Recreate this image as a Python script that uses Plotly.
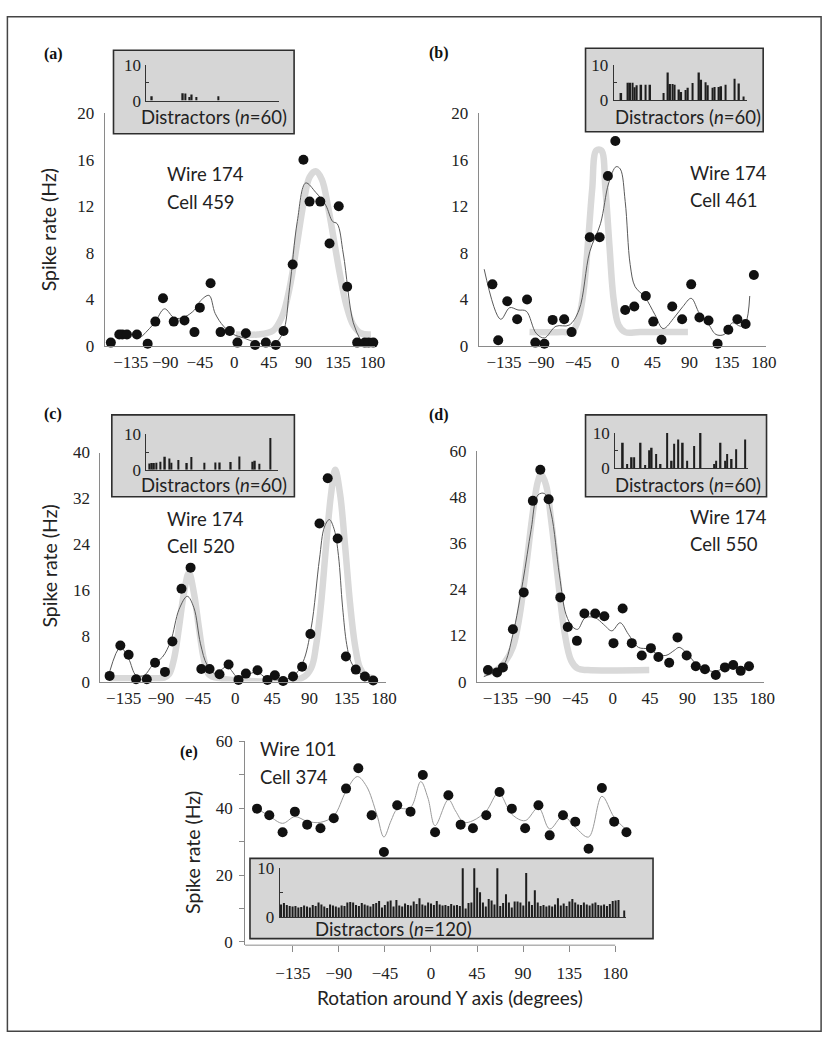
import plotly.graph_objects as go

W, H = 840, 1051

# ---- data ----
x_ticks = [-135, -90, -45, 0, 45, 90, 135, 180]
x_tick_text = ['−135', '−90', '−45', '0', '45', '90', '135', '180']

# (a) wire 174 cell 459
a_x = [-161, -150, -146, -140, -127, -113, -103, -93, -79, -65, -52, -45, -31, -18, -6, 4,
       15, 27, 41, 54, 64, 76, 90, 98, 112, 124, 136, 147, 160, 170, 175, 181]
a_y = [0.3, 1.0, 1.0, 1.0, 1.0, 0.2, 2.1, 4.1, 2.1, 2.2, 1.2, 3.3, 5.4, 1.2, 1.3, 0.3,
       1.1, 0.1, 0.3, 0.1, 1.3, 7.0, 16.0, 12.4, 12.4, 8.8, 12.0, 5.1, 0.3, 0.3, 0.3, 0.3]
a_fit_x = [-121, -104, -91, -78, -65, -52, -44, -33, -25, -14, -1, 12, 29, 50, 63, 72, 82,
           93, 106, 119, 128, 134, 142, 155, 166]
a_fit_y = [0.8, 2.0, 3.2, 2.4, 2.5, 3.1, 3.9, 4.35, 2.8, 1.7, 1.0, 0.7, 0.3, 0.15, 1.1, 5.0,
           10.7, 14.0, 13.2, 12.1, 10.7, 10.5, 7.9, 2.0, 0.3]
a_gauss_x = [2, 30, 50, 62, 72, 81, 90, 98, 106, 114, 122, 130, 138, 146, 155, 165, 178]
a_gauss_y = [1.0, 1.0, 1.3, 2.5, 5.0, 8.5, 12.2, 14.5, 15.0, 14.3, 12.0, 9.0, 6.0, 3.5, 1.8, 1.1, 1.0]
a_bars = [0, 0, 1.2, 0, 0, 0, 0, 0, 0, 0,
          0, 0, 0, 0, 0, 0, 2.1, 2.0, 0, 1.0,
          1.7, 0, 1.0, 0, 0, 0, 0, 0, 0, 0,
          0, 0, 1.2, 0, 0, 0, 0, 0, 0, 0,
          0, 0, 0, 0, 0, 0, 0, 0, 0, 0,
          0, 0, 0, 0, 0, 0, 0, 0, 0, 0]

# (b) wire 174 cell 461
b_x = [-149, -142, -131, -119, -107, -97, -86, -76, -62, -53, -31, -19, -9, 0, 12, 23, 37,
       46, 56, 69, 81, 92, 102, 113, 124, 137, 148, 158, 168]
b_y = [5.3, 0.5, 3.85, 2.3, 4.0, 0.3, 0.2, 2.25, 2.3, 1.2, 9.35, 9.35, 14.6, 17.6, 3.1, 3.4,
       4.3, 2.1, 0.55, 3.4, 2.3, 5.3, 2.45, 2.2, 0.2, 1.4, 2.3, 1.9, 6.1]
b_fit_x = [-159, -139, -128, -118, -108, -96, -86, -72, -56, -44, -31, -18, -8, 1, 6, 12, 18,
           24, 36, 48, 58, 72, 82, 92, 102, 112, 122, 132, 142, 152, 158, 163]
b_fit_y = [6.6, 2.3, 3.3, 3.1, 3.0, 1.1, 0.7, 1.7, 1.8, 3.1, 8.1, 10.5, 14.0, 15.4, 15.2, 12.4,
           7.0, 5.1, 4.2, 2.7, 1.5, 2.5, 3.4, 4.1, 2.8, 2.0, 1.0, 1.0, 2.0, 1.7, 2.0, 4.3]
b_gauss_x = [-104, -65, -52, -44, -38, -33, -28, -23, -17, -12, -7, -2, 4, 12, 30, 88]
b_gauss_y = [1.2, 1.2, 1.3, 2.5, 5.0, 9.0, 13.5, 16.8, 16.8, 13.5, 8.5, 4.0, 1.8, 1.2, 1.2, 1.2]
b_bars = [0, 0, 0, 2.0, 0, 0, 4.9, 4.9, 4.9, 3.6,
          4.2, 0, 4.3, 0, 4.3, 0, 4.3, 0, 0, 0,
          0, 0, 2.0, 0, 7.8, 4.5, 4.5, 4.3, 0, 3.0,
          2.3, 0, 2.8, 3.5, 0, 4.8, 0, 0, 7.8, 5.7,
          0, 5.0, 4.2, 0, 3.5, 3.7, 0, 3.7, 3.9, 0,
          4.3, 0, 0, 0, 6.0, 0, 4.7, 0, 1.0, 0]

# (c) wire 174 cell 520
c_x = [-152, -139, -129, -120, -107, -97, -85, -76, -65, -54, -41, -31, -19, -8, 4, 13, 27,
       39, 48, 58, 70, 81, 91, 102, 112, 124, 134, 146, 157, 167]
c_y = [1.0, 6.3, 4.7, 0.4, 0.4, 3.3, 1.7, 7.0, 16.2, 19.9, 2.2, 2.2, 1.3, 3.0, 0.3, 1.4, 2.0,
       0.3, 1.1, 0.1, 0.9, 2.6, 8.3, 27.6, 35.5, 25.0, 4.4, 2.1, 0.9, 0.2]
c_fit_x = [-152, -139, -129, -120, -110, -100, -88, -78, -68, -58, -50, -42, -34, -24, -10, 4,
           14, 26, 38, 54, 70, 82, 92, 102, 108, 114, 120, 125, 130, 135, 140, 147, 155, 165]
c_fit_y = [1.7, 6.0, 4.0, 1.1, 1.1, 2.9, 4.3, 7.1, 12.6, 14.9, 12.9, 6.6, 2.9, 1.4, 2.6, 0.6,
           1.1, 1.7, 0.6, 0.3, 0.9, 3.4, 9.4, 21.4, 27.0, 28.3, 26.5, 22.0, 13.0, 6.5, 3.5, 2.0,
           1.1, 0.3]
c_gauss_x = [-152, -100, -86, -80, -74, -68, -62, -56, -50, -44, -38, -32, -20, 80, 92, 98,
             104, 110, 116, 121, 127, 133, 139, 145, 151, 158, 167]
c_gauss_y = [0.6, 0.6, 0.7, 1.3, 4.0, 9.5, 15.5, 19.0, 15.5, 9.5, 4.0, 1.3, 0.6, 0.6, 2.4, 6.4,
             13.7, 23.7, 32.7, 37.0, 32.7, 23.7, 13.7, 6.4, 2.4, 1.0, 0.6]
c_bars = [0, 1.8, 1.9, 1.9, 2.0, 0, 2.3, 0, 3.7, 0,
          3.2, 2.0, 0, 0, 2.8, 0, 0, 0, 1.9, 0,
          3.6, 0, 0, 0, 0, 0, 2.0, 0, 0, 0,
          0, 2.1, 0, 2.1, 0, 0, 0, 0, 2.2, 0,
          0, 0, 3.8, 0, 0, 0, 0, 0, 2.3, 2.6,
          0, 1.7, 0, 0, 0, 0, 9.0, 0, 0, 0]

# (d) wire 174 cell 550
d_x = [-150, -139, -132, -120, -107, -96, -87, -77, -63, -54, -43, -34, -21, -10, 1, 12, 23,
       35, 46, 55, 68, 78, 89, 100, 111, 124, 135, 145, 154, 164]
d_y = [3.0, 2.4, 3.7, 13.6, 23.2, 47.0, 55.1, 47.4, 21.9, 14.2, 10.6, 17.7, 17.7, 17.0, 10.0,
       19.0, 10.0, 6.8, 8.7, 6.4, 4.9, 11.5, 6.8, 4.0, 3.2, 1.7, 3.7, 4.3, 2.8, 4.0]
d_fit_x = [-155, -141, -131, -120, -108, -98, -90, -82, -74, -64, -56, -48, -42, -33, -21, -11,
           -1, 9, 19, 31, 43, 54, 64, 74, 80, 90, 100, 110, 122, 133, 145, 157, 163]
d_fit_y = [1.3, 2.6, 4.3, 12.3, 26.0, 39.6, 48.5, 48.9, 43.8, 27.7, 17.4, 14.2, 13.6, 16.6,
           16.6, 14.9, 13.2, 15.3, 12.3, 8.9, 8.5, 7.2, 6.8, 8.1, 8.9, 7.2, 4.7, 3.4, 2.6, 3.4,
           3.8, 3.4, 3.8]
d_gauss_x = [-155, -140, -130, -120, -112, -104, -96, -90, -86, -80, -74, -66, -58, -50, -42,
             -30, 44]
d_gauss_y = [2.2, 3.0, 5.0, 9.0, 17.0, 30.0, 44.0, 52.0, 54.0, 51.0, 42.0, 27.0, 13.0, 5.5,
             3.4, 3.0, 3.0]
d_bars = [0, 0, 0, 7.2, 0, 1.2, 0, 3.1, 3.1, 0,
          0, 7.2, 0, 0.9, 0, 5.1, 5.8, 0, 4.0, 0,
          1.2, 0, 0, 12.3, 0, 2.1, 6.9, 0, 8.1, 0,
          7.2, 0, 2.1, 0, 0, 6.3, 0, 0, 15.0, 0,
          0, 0, 0, 0, 1.2, 2.1, 0, 7.2, 0, 2.1,
          4.0, 0, 2.6, 0, 5.4, 0, 0, 0, 8.1, 0]

# (e) wire 101 cell 374
e_x = [-170, -158, -145, -133, -121, -108, -95, -83, -71, -58, -46, -33, -20, -8, 4, 17, 29,
       41, 54, 67, 79, 92, 105, 116, 129, 141, 154, 167, 179, 191]
e_y = [39.9, 37.9, 32.8, 39.0, 35.1, 34.0, 37.0, 45.9, 52.0, 37.9, 26.9, 40.9, 39.0, 50.0,
       32.8, 43.9, 35.1, 34.0, 37.9, 44.9, 39.9, 34.0, 40.9, 31.9, 37.9, 36.0, 27.9, 46.1,
       36.0, 32.8]
e_fit_x = [-170, -158, -145, -133, -121, -108, -95, -83, -72, -63, -53, -46, -39, -33, -20,
           -10, -3, 4, 17, 24, 32, 41, 54, 66, 79, 92, 105, 116, 129, 141, 154, 167, 179, 190]
e_fit_y = [39.9, 37.7, 35.5, 37.5, 36.1, 35.8, 37.7, 45.1, 49.5, 46.6, 38.2, 31.4, 36.3, 39.7,
           40.2, 48.0, 43.1, 34.8, 42.6, 39.2, 35.8, 36.3, 39.2, 44.6, 38.2, 36.3, 40.2, 33.8,
           37.7, 34.3, 31.4, 43.6, 37.3, 33.8]
e_bars = [2.6, 2.9, 2.5, 2.3, 2.2, 2.3, 2.0, 2.1, 2.4, 2.2,
          2.0, 2.5, 2.3, 3.0, 2.6, 2.2, 1.9, 2.6, 2.4, 2.2,
          2.0, 2.4, 2.3, 3.0, 3.1, 3.0, 2.5, 2.3, 2.9, 2.6,
          2.4, 2.2, 2.7, 2.9, 3.3, 2.0, 2.5, 3.2, 3.4, 2.2,
          3.5, 2.4, 2.2, 2.8, 2.5, 2.4, 3.2, 2.7, 3.9, 2.6,
          2.4, 3.0, 2.8, 2.5, 3.3, 2.6, 2.4, 2.5, 2.3, 2.7,
          2.4, 2.5, 2.3, 12.0, 1.8, 2.9, 3.0, 10.8, 6.0, 5.1,
          3.0, 2.2, 3.7, 3.4, 2.6, 11.5, 2.3, 2.9, 4.7, 3.0,
          2.0, 3.2, 3.2, 3.0, 2.4, 9.0, 3.2, 2.5, 5.5, 3.0,
          2.3, 2.5, 2.2, 2.4, 2.2, 2.6, 3.9, 2.4, 2.8, 2.3,
          3.2, 3.7, 3.0, 2.6, 2.5, 3.0, 2.6, 2.4, 2.8, 3.0,
          2.5, 2.4, 2.6, 2.3, 2.7, 3.3, 3.4, 3.5, 0, 1.4]

cell_text = [('Wire 174', 'Cell 459'), ('Wire 174', 'Cell 461'), ('Wire 174', 'Cell 520'),
             ('Wire 174', 'Cell 550'), ('Wire 101', 'Cell 374')]
distractor_text = ['Distractors (<i>n</i>=60)'] * 4 + ['Distractors (<i>n</i>=120)']
panel_letters = ['(a)', '(b)', '(c)', '(d)', '(e)']


def fx(p):
    return p / W


def fy(p):
    return 1 - p / H


SANS = 'Lato'
SERIF = 'Liberation Serif'
INK = '#222222'
AXIS = '#8a8a8a'

# panel geometry in pixels: x domain, x range, y domain (bottom, top), y range, y ticks
main = [
    dict(xd=(106, 380), xr=(-169.1, 183.3), yd=(343.3, 106), yr=(0, 20), yt=[0, 4, 8, 12, 16, 20],
         pts=(a_x, a_y), fit=(a_fit_x, a_fit_y), gauss=(a_gauss_x, a_gauss_y)),
    dict(xd=(485, 776), xr=(-165.7, 182.5), yd=(343.3, 106), yr=(0, 20), yt=[0, 4, 8, 12, 16, 20],
         pts=(b_x, b_y), fit=(b_fit_x, b_fit_y), gauss=(b_gauss_x, b_gauss_y)),
    dict(xd=(101.7, 391), xr=(-163.2, 182.4), yd=(685, 451.7), yr=(0, 40), yt=[0, 8, 16, 24, 32, 40],
         pts=(c_x, c_y), fit=(c_fit_x, c_fit_y), gauss=(c_gauss_x, c_gauss_y)),
    dict(xd=(483.3, 774.2), xr=(-163.2, 182.1), yd=(685, 450), yr=(0, 60), yt=[0, 12, 24, 36, 48, 60],
         pts=(d_x, d_y), fit=(d_fit_x, d_fit_y), gauss=(d_gauss_x, d_gauss_y)),
    dict(xd=(248.3, 638.9), xr=(-181.7, 195), yd=(953.4, 745), yr=(-1, 60.3),
         yt=[0, 10, 20, 30, 40, 50, 60], pts=(e_x, e_y), fit=(e_fit_x, e_fit_y), gauss=None),
]

insets = [
    dict(box=(115, 42, 298, 127), xd=(148.3, 283), yd=(93.3, 57), txt=(217, 110, 'center'), bars=a_bars),
    dict(box=(593.3, 40, 773.3, 125), xd=(621.7, 756.7), yd=(92.7, 56.7), txt=(697.5, 110, 'center'), bars=b_bars),
    dict(box=(113.3, 413.3, 298.3, 496.7), xd=(148.3, 281.7), yd=(469.3, 433.3), txt=(216.7, 485, 'center'), bars=c_bars),
    dict(box=(593.3, 413.3, 776.7, 496.7), xd=(623.3, 758.3), yd=(467.7, 431.7), txt=(696.7, 485, 'center'), bars=d_bars),
    dict(box=(253.3, 865, 661.7, 946.7), xd=(283.3, 634), yd=(925, 875), txt=(316.7, 936.7, 'left'), bars=e_bars),
]

letter_pos = [(43, 46), (433, 45), (43, 412), (433, 413), (180, 757)]
cell_pos = [(166.7, 168, 197), (696.7, 167.5, 195), (166.7, 519, 546.7), (696.7, 517, 545),
            (261.7, 754, 782)]

fig = go.Figure()
layout = {}
annotations = []
shapes = []

for i, p in enumerate(main):
    n = i + 1
    xa = 'x' if n == 1 else f'x{n}'
    ya = 'y' if n == 1 else f'y{n}'
    if p['gauss'] is not None:
        fig.add_trace(go.Scatter(x=p['gauss'][0], y=p['gauss'][1], xaxis=xa, yaxis=ya,
                                 mode='lines', line=dict(color='#d9d9d9', width=6.5, shape='spline', smoothing=1.0),
                                 hoverinfo='skip', cliponaxis=False))
    fig.add_trace(go.Scatter(x=p['fit'][0], y=p['fit'][1], xaxis=xa, yaxis=ya, mode='lines',
                             line=dict(color='#9a9a9a' if n == 5 else '#5a5a5a', width=1,
                                       shape='spline', smoothing=1.0),
                             hoverinfo='skip', cliponaxis=False))
    fig.add_trace(go.Scatter(x=p['pts'][0], y=p['pts'][1], xaxis=xa, yaxis=ya, mode='markers',
                             marker=dict(color='#111111', size=10),
                             cliponaxis=False,
                             hovertemplate='%{x}°: %{y} Hz<extra></extra>'))

    xname = 'xaxis' if n == 1 else f'xaxis{n}'
    yname = 'yaxis' if n == 1 else f'yaxis{n}'
    is_e = n == 5
    layout[xname] = dict(
        domain=[fx(p['xd'][0]), fx(p['xd'][1])], range=list(p['xr']), anchor=ya,
        showline=not is_e, linecolor=AXIS, linewidth=1, showgrid=False, zeroline=False,
        tickvals=x_ticks, ticktext=x_tick_text, tickangle=0,
        ticks='outside' if is_e else '', ticklen=6, tickcolor=AXIS,
        ticklabelstandoff=6 if is_e else 1,
        tickfont=dict(family=SERIF, size=17, color=INK),
    )
    ytext = [str(v) for v in p['yt']]
    if is_e:
        ytext = ['0', '', '20', '', '40', '', '60']
    layout[yname] = dict(
        domain=[fy(p['yd'][0]), fy(p['yd'][1])], range=list(p['yr']), anchor=xa,
        showline=True, linecolor=AXIS, linewidth=1, showgrid=False, zeroline=False,
        tickvals=p['yt'], ticktext=ytext,
        ticks='outside' if is_e else '', ticklen=5, tickcolor=AXIS,
        ticklabelstandoff=3 if is_e else 6,
        tickfont=dict(family=SERIF, size=17, color=INK),
    )

# x axis line of panel (e) stops at 180 while the points run past it
shapes.append(dict(type='line', xref='x5', yref='paper', x0=-181.7, x1=180,
                   y0=fy(953.4), y1=fy(953.4), line=dict(color=AXIS, width=1)))

for i, s in enumerate(insets):
    n = i + 6
    xa, ya = f'x{n}', f'y{n}'
    bx0, by0, bx1, by1 = s['box']
    shapes.append(dict(type='rect', xref='paper', yref='paper', layer='below',
                       x0=fx(bx0), x1=fx(bx1), y0=fy(by1), y1=fy(by0),
                       fillcolor='#d6d6d6', line=dict(color='#2e2e2e', width=1.6)))
    fig.add_trace(go.Bar(x=list(range(len(s['bars']))), y=s['bars'], xaxis=xa, yaxis=ya,
                         marker=dict(color='#1e1e1e', line=dict(width=0)), cliponaxis=False,
                         hovertemplate='%{y}<extra></extra>'))
    layout[f'xaxis{n}'] = dict(
        domain=[fx(s['xd'][0]), fx(s['xd'][1])], range=[-0.5, len(s['bars']) - 0.5], anchor=ya,
        showline=True, linecolor='#333333', linewidth=1, showgrid=False, zeroline=False,
        showticklabels=False, ticks='',
    )
    layout[f'yaxis{n}'] = dict(
        domain=[fy(s['yd'][0]), fy(s['yd'][1])], range=[0, 10], anchor=xa,
        showline=True, linecolor='#333333', linewidth=1, showgrid=False, zeroline=False,
        tickvals=[0, 5, 10], ticktext=['0', '', '10'], ticks='inside', ticklen=3,
        tickcolor='#333333', ticklabelstandoff=1,
        tickfont=dict(family=SERIF, size=17, color=INK),
    )
    tx, ty, anc = s['txt']
    annotations.append(dict(text=distractor_text[i], x=fx(tx), y=fy(ty), xref='paper', yref='paper',
                            xanchor=anc, yanchor='middle', showarrow=False,
                            font=dict(family=SANS, size=18.5, color=INK)))

for i in range(5):
    lx, ly = letter_pos[i]
    annotations.append(dict(text='<b>' + panel_letters[i] + '</b>', x=fx(lx), y=fy(ly),
                            xref='paper', yref='paper', xanchor='left', yanchor='middle',
                            showarrow=False, font=dict(family=SERIF, size=16, color='#111111')))
    cx, cy1, cy2 = cell_pos[i]
    for txt, cy in zip(cell_text[i], (cy1, cy2)):
        annotations.append(dict(text=txt, x=fx(cx), y=fy(cy), xref='paper', yref='paper',
                                xanchor='left', yanchor='middle', showarrow=False,
                                font=dict(family=SANS, size=18.5, color=INK)))

for yx, yy in [(50, 225), (50.5, 567), (195, 859)]:
    annotations.append(dict(text='Spike rate (Hz)', x=fx(yx), y=fy(yy), xref='paper', yref='paper',
                            xanchor='center', yanchor='middle', textangle=-90, showarrow=False,
                            font=dict(family=SANS, size=19.5, color=INK)))

annotations.append(dict(text='Rotation around Y axis (degrees)', x=fx(456), y=fy(1007),
                        xref='paper', yref='paper', xanchor='center', yanchor='middle',
                        showarrow=False, font=dict(family=SANS, size=19, color=INK)))

# outer frame
shapes.append(dict(type='rect', xref='paper', yref='paper', layer='below',
                   x0=fx(7.5), x1=fx(832), y0=fy(1041), y1=fy(8),
                   line=dict(color='#444444', width=1.5)))

fig.update_layout(
    width=W, height=H, autosize=False,
    margin=dict(l=0, r=0, t=0, b=0),
    paper_bgcolor='white', plot_bgcolor='rgba(0,0,0,0)',
    showlegend=False, bargap=0.3,
    annotations=annotations, shapes=shapes,
    **layout
)

fig.write_html("out.html", config={'displayModeBar': False},
               post_script="document.body.style.margin='0';")
